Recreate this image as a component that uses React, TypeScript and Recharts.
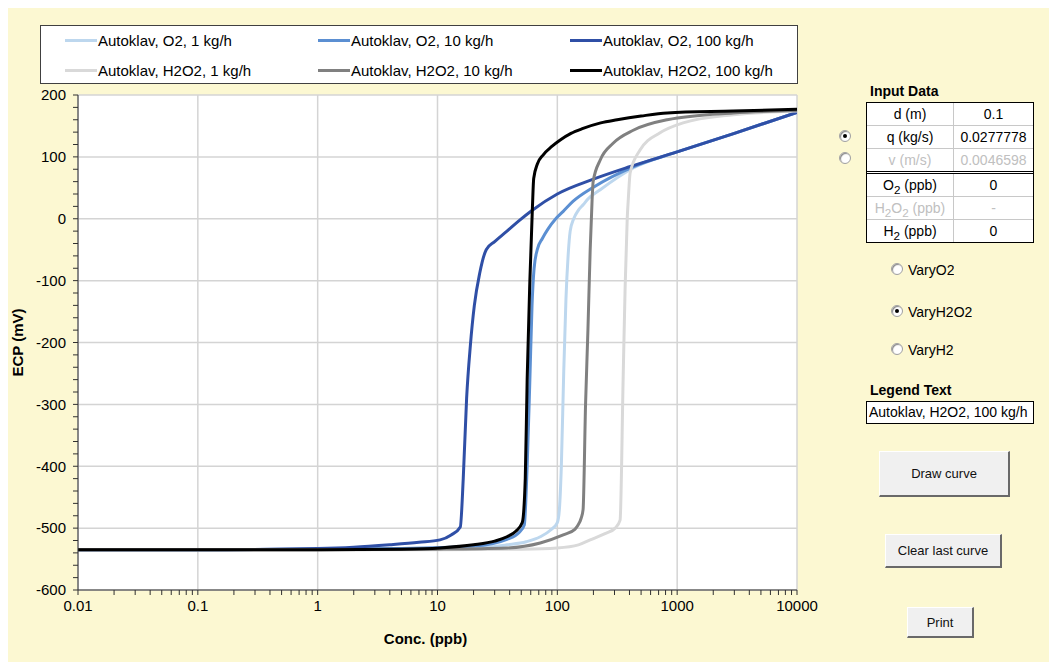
import React from "react";
import { LineChart, Line, XAxis, YAxis, CartesianGrid } from "recharts";

// ECP vs concentration
const o2_1_conc = [0.01, 0.1, 1, 10, 25, 38, 55, 72, 88, 100, 104, 108, 113, 118, 123, 128, 137, 150, 165, 180, 228, 430, 1000, 3000, 10000];
const o2_1_ecp = [-535, -535, -534, -533, -531, -527, -522, -514, -503, -491, -470, -400, -250, -130, -60, -20, 0, 14, 23, 32, 47, 82, 108, 138, 172];

const o2_10_conc = [0.01, 0.1, 1, 5, 20, 38, 48, 53, 56, 59, 61.5, 64, 68, 75, 84, 97, 112, 135, 200, 430, 1000, 3000, 10000];
const o2_10_ecp = [-535, -535, -534, -533, -529, -518, -507, -495, -400, -260, -140, -80, -50, -32, -16, 0, 12, 28, 51, 84, 108, 138, 172];

const o2_100_conc = [0.01, 0.1, 1, 2, 4, 7, 10.5, 13, 15.5, 16.4, 17.5, 18.8, 20.3, 22.5, 25.5, 30, 38, 48, 61, 100, 200, 400, 1000, 3000, 10000];
const o2_100_ecp = [-535, -535, -533, -531, -527, -523, -519, -511, -498, -420, -290, -205, -140, -88, -50, -37, -20, -3, 13, 40, 64, 84, 108, 138, 172];

const h2o2_1_conc = [0.01, 0.1, 1, 10, 50, 100, 150, 188, 250, 304, 334, 354, 368, 383, 392, 405, 490, 720, 1120, 2940, 10000];
const h2o2_1_ecp = [-535, -535, -535, -535, -534, -532, -527, -519, -509, -500, -487, -260, -110, 0, 35, 74, 111, 139, 155, 168, 174];

const h2o2_10_conc = [0.01, 0.1, 1, 10, 38, 72, 112, 140, 149, 158, 164, 172, 180, 188, 195, 199, 228, 292, 430, 826, 2940, 10000];
const h2o2_10_ecp = [-535, -535, -535, -534, -532, -524, -511, -502, -495, -484, -470, -300, -180, -50, 30, 60, 95, 122, 143, 160, 171, 175];

const h2o2_100_conc = [0.01, 0.1, 1, 5, 10.5, 20, 30, 38, 45, 51, 54, 56, 59, 62, 63.5, 68, 76, 90, 105, 130, 164, 230, 316, 500, 826, 2940, 10000];
const h2o2_100_ecp = [-535, -535, -535, -534, -532, -527, -521, -514, -505, -491, -420, -260, -100, 20, 65, 88, 103, 117, 127, 138, 146, 155, 160, 166, 171, 174, 177];

const seriesNames = [
  "Autoklav, O2, 1 kg/h",
  "Autoklav, O2, 10 kg/h",
  "Autoklav, O2, 100 kg/h",
  "Autoklav, H2O2, 1 kg/h",
  "Autoklav, H2O2, 10 kg/h",
  "Autoklav, H2O2, 100 kg/h",
];
const seriesColors = ["#bdd7ee", "#5b8fd2", "#2f4fa6", "#d9d9d9", "#808080", "#000000"];

const majorX = [0.01, 0.1, 1, 10, 100, 1000, 10000];
const minorMult = [1, 2, 3, 4, 5, 6, 7, 8, 9];
const xTicks = majorX.slice(0, -1).flatMap((d) => minorMult.map((m) => +(d * m).toPrecision(3))).concat([10000]);
const majorY = [-600, -500, -400, -300, -200, -100, 0, 100, 200];
const yTicks = Array.from({ length: 41 }, (_, i) => -600 + i * 20);

const zip = (c: number[], v: number[]) => c.map((x, i) => ({ conc: x, ecp: v[i] }));
const series = [
  zip(o2_1_conc, o2_1_ecp),
  zip(o2_10_conc, o2_10_ecp),
  zip(o2_100_conc, o2_100_ecp),
  zip(h2o2_1_conc, h2o2_1_ecp),
  zip(h2o2_10_conc, h2o2_10_ecp),
  zip(h2o2_100_conc, h2o2_100_ecp),
];

const FONT = "'Liberation Sans', Arial, sans-serif";
const BG = "#fcf8d2";

const legendCols = [65, 318, 570];
const legendRows = [40, 70];

function Radio({ x, y, checked }: { x: number; y: number; checked?: boolean }) {
  return (
    <div
      style={{
        position: "absolute",
        left: x - 6,
        top: y - 6,
        width: 10,
        height: 10,
        borderRadius: "50%",
        border: "1px solid #a0a0a0",
        background: "#fff",
        boxShadow: "inset 1px 1px 1px #888",
      }}
    >
      {checked && (
        <div style={{ position: "absolute", left: 3, top: 3, width: 4, height: 4, borderRadius: "50%", background: "#000" }} />
      )}
    </div>
  );
}

function Button({ x, y, w, h, label }: { x: number; y: number; w: number; h: number; label: string }) {
  return (
    <div
      style={{
        position: "absolute",
        left: x,
        top: y,
        width: w,
        height: h,
        boxSizing: "border-box",
        background: "#f0f0f0",
        borderTop: "1px solid #fff",
        borderLeft: "1px solid #fff",
        borderRight: "2px solid #696969",
        borderBottom: "2px solid #696969",
        display: "flex",
        alignItems: "center",
        justifyContent: "center",
        fontSize: 13,
        color: "#111",
      }}
    >
      {label}
    </div>
  );
}

const tableRows: { label: React.ReactNode; value: string; grey?: boolean }[] = [
  { label: "d (m)", value: "0.1" },
  { label: "q (kg/s)", value: "0.0277778" },
  { label: "v (m/s)", value: "0.0046598", grey: true },
  { label: <>O<sub>2</sub> (ppb)</>, value: "0" },
  { label: <>H<sub>2</sub>O<sub>2</sub> (ppb)</>, value: "-", grey: true },
  { label: <>H<sub>2</sub> (ppb)</>, value: "0" },
];

export default function App() {
  return (
    <div style={{ position: "relative", margin: -8, width: 1057, height: 670, background: BG, fontFamily: FONT, overflow: "hidden" }}>
      {/* legend box */}
      <div
        style={{
          position: "absolute",
          left: 40,
          top: 25,
          width: 758,
          height: 59,
          boxSizing: "border-box",
          background: "#fff",
          border: "1px solid #404040",
        }}
      />
      {seriesNames.map((name, i) => {
        const x = legendCols[i % 3];
        const y = legendRows[Math.floor(i / 3)];
        return (
          <div key={name} style={{ position: "absolute", left: x, top: y - 9, height: 18, display: "flex", alignItems: "center", fontSize: 15, whiteSpace: "nowrap" }}>
            <div style={{ width: 32, height: 3, background: seriesColors[i], marginRight: 1 }} />
            <span>{name}</span>
          </div>
        );
      })}

      <div style={{ position: "absolute", left: 0, top: 0 }}>
        <LineChart width={830} height={670} margin={{ top: 95, right: 33, bottom: 24, left: 18 }}>
          <CartesianGrid
            stroke="#d4d4d4"
            strokeWidth={1.5}
            fill="#ffffff"
            verticalValues={majorX}
            horizontalValues={majorY}
          />
          <XAxis
            dataKey="conc"
            type="number"
            scale="log"
            domain={[0.01, 10000]}
            allowDataOverflow
            ticks={xTicks}
            interval={0}
            height={56}
            tickSize={5}
            tickMargin={5}
            stroke="#303030"
            tick={{ fontSize: 15, fill: "#000", fontFamily: FONT }}
            tickFormatter={(v: number) => (majorX.includes(v) ? String(v) : "")}
            label={{ value: "Conc. (ppb)", position: "insideBottom", offset: 2, dx: -12, style: { fontSize: 15, fontWeight: "bold", fill: "#000", fontFamily: FONT } }}
          />
          <YAxis
            type="number"
            domain={[-600, 200]}
            allowDataOverflow
            ticks={yTicks}
            interval={0}
            width={60}
            tickSize={5}
            tickMargin={7}
            stroke="#303030"
            tick={{ fontSize: 15, fill: "#000", fontFamily: FONT }}
            tickFormatter={(v: number) => (v % 100 === 0 ? String(v) : "")}
            label={{ value: "ECP (mV)", angle: -90, position: "insideLeft", offset: 0, textAnchor: "middle", style: { fontSize: 15, fontWeight: "bold", fill: "#000", fontFamily: FONT, textAnchor: "middle" } }}
          />
          {series.map((d, i) => (
            <Line
              key={seriesNames[i]}
              data={d}
              dataKey="ecp"
              name={seriesNames[i]}
              type="monotone"
              stroke={seriesColors[i]}
              strokeWidth={3}
              dot={false}
              activeDot={false}
              isAnimationActive={false}
            />
          ))}
        </LineChart>
      </div>

      {/* right-hand input panel */}
      <div style={{ position: "absolute", left: 870, top: 83, fontSize: 14, fontWeight: "bold" }}>Input Data</div>
      <div style={{ position: "absolute", left: 866, top: 102, width: 168, boxSizing: "border-box", border: "1px solid #000", background: "#fff", fontSize: 14 }}>
        {tableRows.map((r, i) => (
          <div
            key={i}
            style={{
              display: "flex",
              height: 22,
              borderTop: i === 0 ? "none" : i === 3 ? "3px double #000" : "1px solid #c8c8c8",
              color: r.grey ? "#c0c0c0" : "#000",
            }}
          >
            <div style={{ width: 86, textAlign: "center", lineHeight: "22px", borderRight: "1px solid #c8c8c8" }}>{r.label}</div>
            <div style={{ flex: 1, textAlign: "center", lineHeight: "22px" }}>{r.value}</div>
          </div>
        ))}
      </div>
      <Radio x={845} y={136} checked />
      <Radio x={845} y={158} />

      <Radio x={897} y={269} />
      <div style={{ position: "absolute", left: 908, top: 262, height: 17, overflow: "hidden", fontSize: 14 }}>VaryO2</div>
      <Radio x={897} y={311} checked />
      <div style={{ position: "absolute", left: 908, top: 304, height: 17, overflow: "hidden", fontSize: 14 }}>VaryH2O2</div>
      <Radio x={897} y={349} />
      <div style={{ position: "absolute", left: 908, top: 342, height: 17, overflow: "hidden", fontSize: 14 }}>VaryH2</div>

      <div style={{ position: "absolute", left: 870, top: 382, fontSize: 14, fontWeight: "bold" }}>Legend Text</div>
      <div style={{ position: "absolute", left: 866, top: 401, width: 168, height: 23, boxSizing: "border-box", border: "1px solid #000", background: "#fff", fontSize: 14, lineHeight: "21px", paddingLeft: 2, whiteSpace: "nowrap", overflow: "hidden" }}>
        Autoklav, H2O2, 100 kg/h
      </div>

      <Button x={879} y={451} w={131} h={46} label="Draw curve" />
      <Button x={885} y={534} w={117} h={34} label="Clear last curve" />
      <Button x={907} y={607} w={67} h={31} label="Print" />
    </div>
  );
}
